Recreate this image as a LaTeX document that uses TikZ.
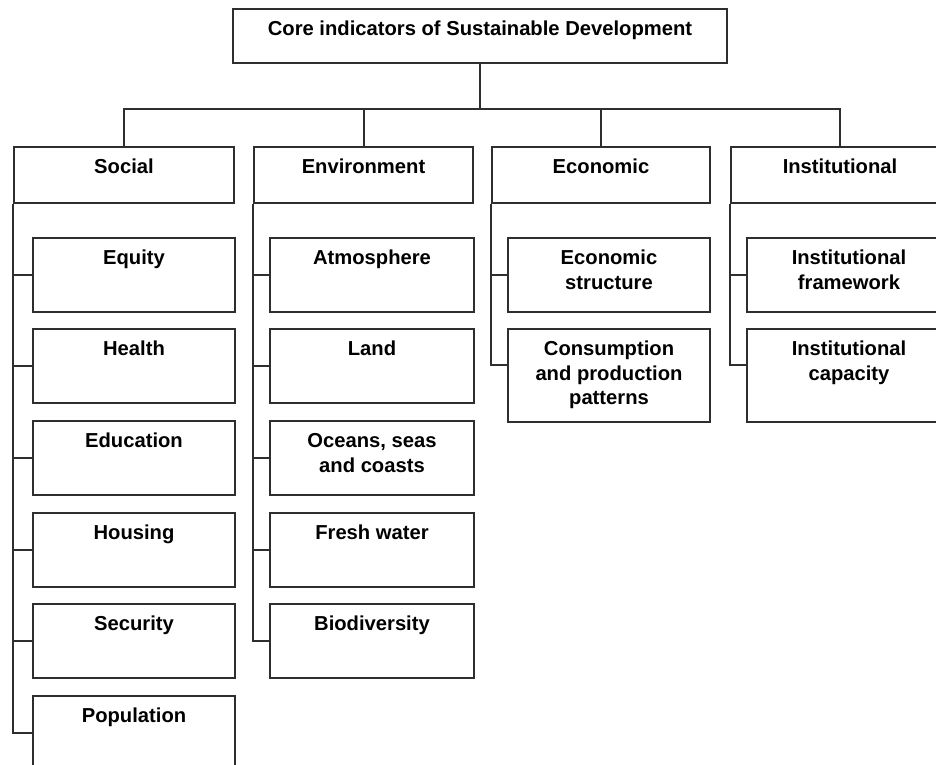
\documentclass[tikz,border=0pt]{standalone}
\usepackage{fontspec}
\setmainfont{Liberation Sans}
\newcommand\bt[3]{\parbox[c][#2pt][t]{#1pt}{\centering\fontsize{20.2}{24.5}\selectfont\bfseries\rule{0pt}{26.5pt}#3}}
\tikzset{
  bx/.style={draw=black!82, line width=2pt, inner sep=0pt, anchor=north west, fill=white},
  ln/.style={draw=black!82, line width=2pt},
}
\begin{document}
\begin{tikzpicture}[x=1pt,y=-1pt]
\useasboundingbox (0,0) rectangle (936,764);
\fill[white] (0,0) rectangle (936,764);
% title
\node[bx] (top) at (232,8) {\bt{494}{54}{Core indicators of Sustainable Development}};
% categories
\node[bx] (soc) at (13,146) {\bt{220}{56}{Social}};
\node[bx] (env) at (253,146) {\bt{219}{56}{Environment}};
\node[bx] (eco) at (491,146) {\bt{218}{56}{Economic}};
\node[bx] (ins) at (730,146) {\bt{218}{56}{Institutional}};
% social
\node[bx] (s1) at (32,237) {\bt{202}{74}{Equity}};
\node[bx] (s2) at (32,328) {\bt{202}{74}{Health}};
\node[bx] (s3) at (32,420) {\bt{202}{74}{Education}};
\node[bx] (s4) at (32,512) {\bt{202}{74}{Housing}};
\node[bx] (s5) at (32,603) {\bt{202}{74}{Security}};
\node[bx] (s6) at (32,695) {\bt{202}{74}{Population}};
% environment
\node[bx] (e1) at (269,237) {\bt{204}{74}{Atmosphere}};
\node[bx] (e2) at (269,328) {\bt{204}{74}{Land}};
\node[bx] (e3) at (269,420) {\bt{204}{74}{Oceans, seas\\and coasts}};
\node[bx] (e4) at (269,512) {\bt{204}{74}{Fresh water}};
\node[bx] (e5) at (269,603) {\bt{204}{74}{Biodiversity}};
% economic
\node[bx] (c1) at (507,237) {\bt{202}{74}{Economic\\structure}};
\node[bx] (c2) at (507,328) {\bt{202}{93}{Consumption\\and production\\patterns}};
% institutional
\node[bx] (i1) at (746,237) {\bt{204}{74}{Institutional\\framework}};
\node[bx] (i2) at (746,328) {\bt{204}{93}{Institutional\\capacity}};
% connectors
\coordinate (hub) at (top.south |- 0,109);
\draw[ln] (top.south) -- (hub);
\foreach \n in {soc,env,eco,ins} \draw[ln] (hub) -| (\n.north);
\foreach \n in {s1,s2,s3,s4,s5,s6} \draw[ln] (soc.south west) |- (\n.west);
\foreach \n in {e1,e2,e3,e4,e5} \draw[ln] (env.south west) |- (\n.west);
\draw[ln] (eco.south west) |- (c1.west);
\draw[ln] (eco.south west) |- ([yshift=-37pt]c2.north west);
\draw[ln] (ins.south west) |- (i1.west);
\draw[ln] (ins.south west) |- ([yshift=-37pt]i2.north west);
\end{tikzpicture}
\end{document}
